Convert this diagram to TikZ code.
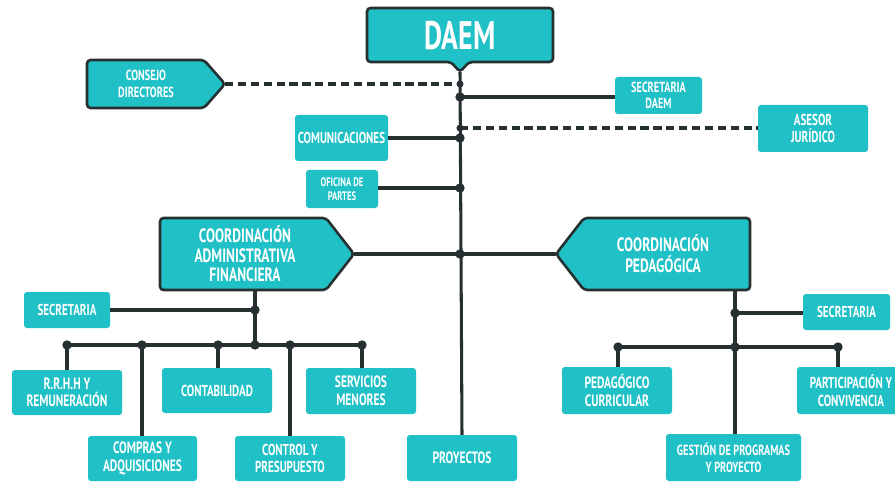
\documentclass[tikz,border=0pt]{standalone}
\usepackage{fontspec}
\newfontfamily\labfont[FakeStretch=0.7, UprightFont={PT Sans Bold}, BoldFont={PT Sans Bold}]{PT Sans}
\definecolor{tealbox}{HTML}{1FC0C6}
\definecolor{darkline}{HTML}{263030}
\tikzset{
  box/.style={fill=tealbox, rounded corners=2.5pt, text=white, align=center, inner sep=0pt, font=\labfont},
  bbox/.style={fill=tealbox, draw=darkline, line width=2.2pt, rounded corners=3pt},
  conn/.style={draw=darkline, line width=2.6pt},
  dconn/.style={draw=darkline, line width=2.6pt, dash pattern=on 7pt off 4pt},
  dot/.style={circle, fill=darkline, inner sep=0pt, minimum size=8pt},
  lbl/.style={text=white, align=center, font=\labfont, inner sep=0pt}
}
\newcommand\bx[7]{\node[box,minimum width={(#4-#2)*0.03cm},minimum height={(#5-#3)*0.03cm},font=\labfont#7] (#1) at ({(#2+#4)/2},{(#3+#5)/2}) {#6};}
\begin{document}
\begin{tikzpicture}[x=0.03cm,y=-0.03cm]
\useasboundingbox (0,0) rectangle (895,482);
% ---- bordered shapes
\draw[bbox] (367,8) -- (553,8) -- (553,62) -- (469,62) -- (460,72) -- (451,62) -- (367,62) -- cycle;
\node[lbl, font=\labfont\fontsize{34}{34}\selectfont] (daem) at (460,36) {DAEM};
\coordinate (daemTip) at (460,72);

\draw[bbox] (87,60) -- (204,60) -- (225,84) -- (204,108) -- (87,108) -- cycle;
\node[lbl, font=\labfont\fontsize{12.5}{14}\selectfont] (consejo) at (146,84) {CONSEJO\\DIRECTORES};
\coordinate (consejoTip) at (225,84);

\draw[bbox] (160,218) -- (326,218) -- (354,254) -- (326,290) -- (160,290) -- cycle;
\node[lbl, font=\labfont\fontsize{16.5}{16.5}\selectfont] (admin) at (245,254) {COORDINACIÓN\\ADMINISTRATIVA\\FINANCIERA};
\coordinate (adminTip) at (354,254);

\draw[bbox] (556,254) -- (584,218) -- (750,218) -- (750,290) -- (584,290) -- cycle;
\node[lbl, font=\labfont\fontsize{16.5}{18}\selectfont] (ped) at (663,254) {COORDINACIÓN\\PEDAGÓGICA};
\coordinate (pedTip) at (556,254);

% ---- plain boxes
\bx{secdaem}{615}{77}{702}{114}{SECRETARIA\\DAEM}{\fontsize{12.5}{13.5}\selectfont}
\bx{comu}{295}{115}{388}{161}{COMUNICACIONES}{\fontsize{13.5}{15}\selectfont}
\bx{asesor}{758}{105}{868}{152}{ASESOR\\JURÍDICO}{\fontsize{13.5}{15}\selectfont}
\bx{oficina}{306}{170}{378}{208}{OFICINA DE\\PARTES}{\fontsize{10.5}{12}\selectfont}
\bx{secL}{24}{292}{110}{328}{SECRETARIA}{\fontsize{13.5}{14}\selectfont}
\bx{rrhh}{12}{370}{122}{415}{R.R.H.H Y\\REMUNERACIÓN}{\fontsize{14}{15}\selectfont}
\bx{compras}{88}{436}{197}{481}{COMPRAS Y\\ADQUISICIONES}{\fontsize{14}{15}\selectfont}
\bx{conta}{162}{368}{272}{413}{CONTABILIDAD}{\fontsize{13.5}{14}\selectfont}
\bx{control}{235}{436}{345}{481}{CONTROL Y\\PRESUPUESTO}{\fontsize{13.5}{15}\selectfont}
\bx{serv}{306}{368}{416}{414}{SERVICIOS\\MENORES}{\fontsize{14}{15}\selectfont}
\bx{proy}{407}{435}{517}{481}{PROYECTOS}{\fontsize{14}{15}\selectfont}
\bx{secR}{803}{294}{890}{330}{SECRETARIA}{\fontsize{13.5}{14}\selectfont}
\bx{pedcur}{562}{367}{672}{414}{PEDAGÓGICO\\CURRICULAR}{\fontsize{14}{15}\selectfont}
\bx{partic}{797}{367}{905}{414}{PARTICIPACIÓN Y\\CONVIVENCIA}{\fontsize{13.5}{15}\selectfont}
\bx{gestion}{666}{434}{801}{481}{GESTIÓN DE PROGRAMAS\\Y PROYECTO}{\fontsize{12.5}{14.5}\selectfont}

% ---- junction coordinates
\coordinate (j1) at (460,84);
\coordinate (j2) at (460,97);
\coordinate (j3) at (460,128);
\coordinate (j4) at (460,138);
\coordinate (j5) at (460,188);
\coordinate (j6) at (460,254);
\coordinate (la) at (255,290);
\coordinate (lb) at (255,310);
\coordinate (lc) at (255,345);
\coordinate (h1) at (67,345);
\coordinate (h2) at (142,345);
\coordinate (h3) at (218,345);
\coordinate (h4) at (290,345);
\coordinate (h5) at (362,345);
\coordinate (ra) at (735,290);
\coordinate (rb) at (735,313);
\coordinate (rc) at (735,347);
\coordinate (r1) at (618,347);
\coordinate (r2) at (838,347);

% ---- connectors
\draw[dconn] (consejoTip) -- (j1);
\draw[dconn] (j3) -- (asesor.west|-j3);
\draw[conn] (daemTip) -- (proy.north);
\draw[conn] (j2) -- (secdaem.west|-j2);
\draw[conn] (comu.east|-j4) -- (j4);
\draw[conn] (oficina.east|-j5) -- (j5);
\draw[conn] (adminTip) -- (pedTip);
% left branch
\draw[conn] (la) -- (lc);
\draw[conn] (secL.east|-lb) -- (lb);
\draw[conn] (h1) -- (h5);
\draw[conn] (h1) -- (rrhh.north-|h1);
\draw[conn] (h2) -- (compras.north-|h2);
\draw[conn] (h3) -- (conta.north-|h3);
\draw[conn] (h4) -- (control.north-|h4);
\draw[conn] (h5) -- (serv.north-|h5);
% right branch
\draw[conn] (ra) -- (gestion.north-|ra);
\draw[conn] (rb) -- (secR.west|-rb);
\draw[conn] (r1) -- (r2);
\draw[conn] (r1) -- (pedcur.north-|r1);
\draw[conn] (r2) -- (partic.north-|r2);
% dots
\foreach \p in {j2,j4,j5,j6,lb,lc,h1,h2,h3,h4,h5,rb,rc,r1,r2} \node[dot] at (\p) {};
\node[dot, minimum size=6pt] at (j1) {};
\node[dot, minimum size=6pt] at (j3) {};
\end{tikzpicture}
\end{document}
